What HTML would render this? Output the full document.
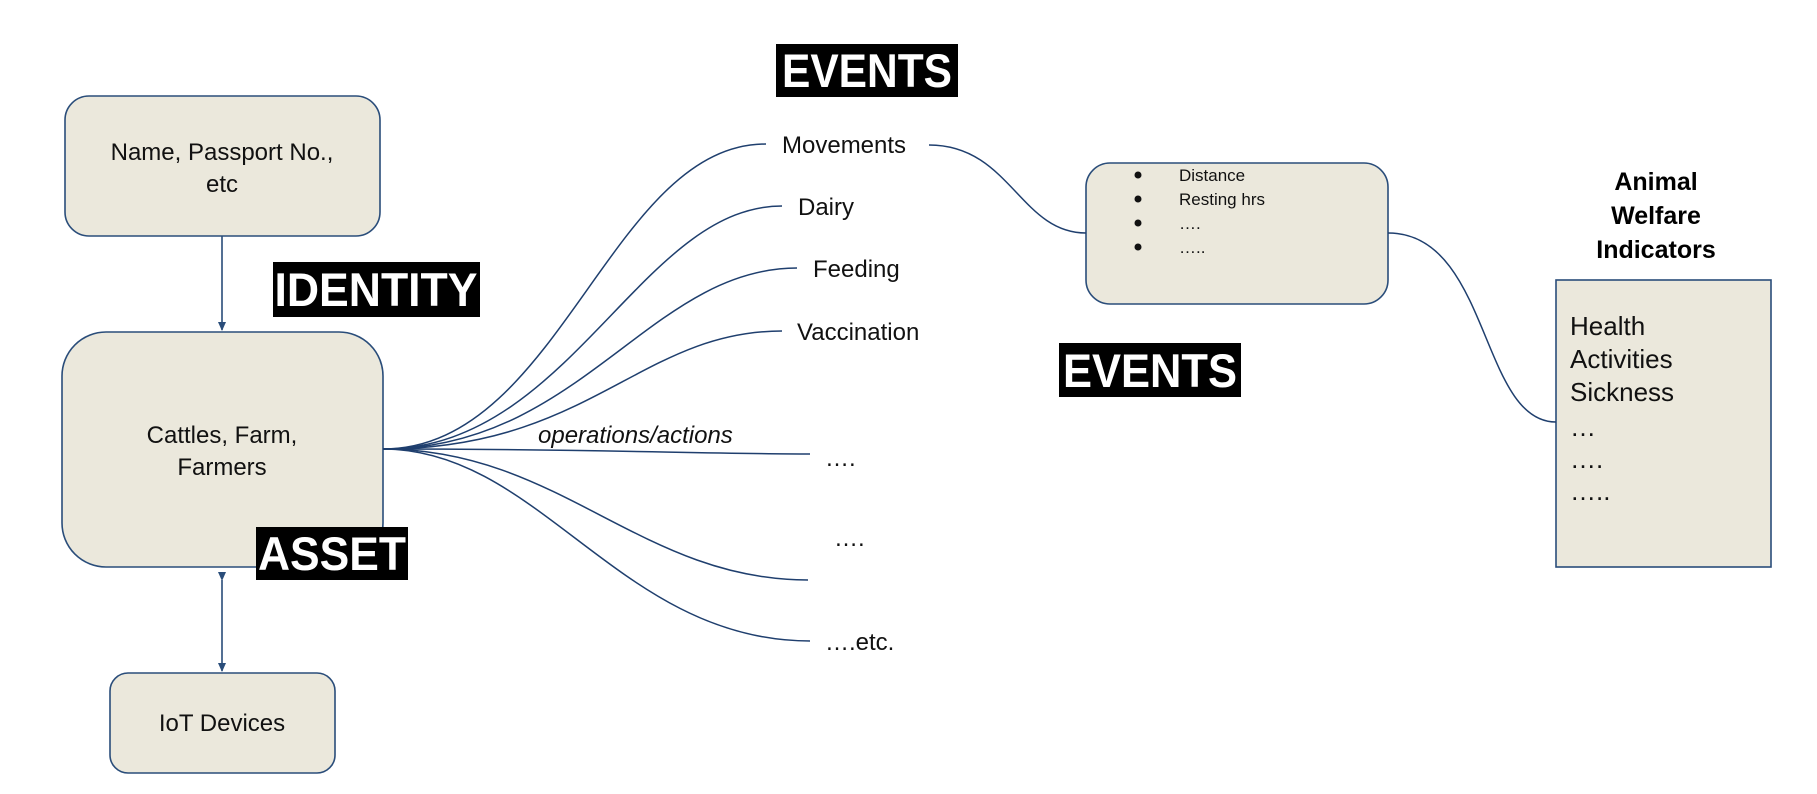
<!DOCTYPE html>
<html><head><meta charset="utf-8"><style>
html,body{margin:0;padding:0;background:#fff;}
svg{display:block;}
text{font-family:"Liberation Sans",Arial,sans-serif;}
</style></head><body>
<svg width="1817" height="794" viewBox="0 0 1817 794" xmlns="http://www.w3.org/2000/svg">
<defs>
<marker id="ah" markerWidth="10" markerHeight="10" refX="8" refY="5" orient="auto" markerUnits="userSpaceOnUse"><path d="M0,1 L9,5 L0,9 z" fill="#2a4d7a"/></marker>
</defs>
<g fill="#ebe8dc" stroke="#2a4d7a" stroke-width="1.6">
<rect x="65" y="96" width="315" height="140" rx="24"/>
<rect x="62" y="332" width="321" height="235" rx="44"/>
<rect x="110" y="673" width="225" height="100" rx="18"/>
<rect x="1086" y="163" width="302" height="141" rx="24"/>
<rect x="1556" y="280" width="215" height="287" rx="0"/>
</g>
<g stroke="#2a4d7a" stroke-width="1.6" fill="none">
<line x1="222" y1="236" x2="222" y2="330" marker-end="url(#ah)"/>
<line x1="222" y1="580" x2="222" y2="671" marker-end="url(#ah)" marker-start="url(#ah)"/>
</g>
<g stroke="#1f3f6e" stroke-width="1.5" fill="none">
<path d="M383,449 C560,449 610,144 766,144"/>
<path d="M383,449 C570,449 640,206 782,206"/>
<path d="M383,449 C580,449 650,268 797,268"/>
<path d="M383,449 C590,449 640,331 782,331"/>
<path d="M383,449 C600,449 700,454 810,454"/>
<path d="M383,449 C560,449 640,580 808,580"/>
<path d="M383,449 C540,449 620,641 810,641"/>
<path d="M929,145 C1010,145 1020,233 1086,233"/>
<path d="M1388,233 C1490,233 1480,422 1556,422"/>
</g>
<g font-size="24" fill="#111" text-anchor="middle">
<text x="222" y="160">Name, Passport No.,</text>
<text x="222" y="192">etc</text>
<text x="222" y="443">Cattles, Farm,</text>
<text x="222" y="475">Farmers</text>
<text x="222" y="731">IoT Devices</text>
</g>
<g fill="#000">
<rect x="776" y="44" width="182" height="53"/>
<rect x="273" y="262" width="207" height="55"/>
<rect x="256" y="527" width="152" height="53"/>
<rect x="1059" y="343" width="182" height="54"/>
</g>
<g fill="#fff" font-weight="bold" font-size="47" text-anchor="middle">
<text x="867" y="87" textLength="170" lengthAdjust="spacingAndGlyphs">EVENTS</text>
<text x="376" y="306" textLength="203" lengthAdjust="spacingAndGlyphs">IDENTITY</text>
<text x="332" y="570" textLength="148" lengthAdjust="spacingAndGlyphs">ASSET</text>
<text x="1150" y="387" textLength="174" lengthAdjust="spacingAndGlyphs">EVENTS</text>
</g>
<g font-size="24" fill="#111">
<text x="782" y="153">Movements</text>
<text x="798" y="215">Dairy</text>
<text x="813" y="277">Feeding</text>
<text x="797" y="340">Vaccination</text>
<text x="538" y="443" font-style="italic">operations/actions</text>
<text x="825" y="466">….</text>
<text x="834" y="546">….</text>
<text x="825" y="650">….etc.</text>
</g>
<g font-size="17" fill="#111">
<circle cx="1138" cy="175" r="3.5"/><circle cx="1138" cy="199" r="3.5"/><circle cx="1138" cy="223" r="3.5"/><circle cx="1138" cy="247" r="3.5"/>
<text x="1179" y="181">Distance</text>
<text x="1179" y="205">Resting hrs</text>
<text x="1179" y="229">….</text>
<text x="1179" y="253">…..</text>
</g>
<g font-size="25" font-weight="bold" fill="#000" text-anchor="middle">
<text x="1656" y="190">Animal</text>
<text x="1656" y="224">Welfare</text>
<text x="1656" y="258">Indicators</text>
</g>
<g font-size="26" fill="#111">
<text x="1570" y="335">Health</text>
<text x="1570" y="368">Activities</text>
<text x="1570" y="401">Sickness</text>
<text x="1570" y="436">…</text>
<text x="1570" y="468">….</text>
<text x="1570" y="500">…..</text>
</g>
</svg>
</body></html>
